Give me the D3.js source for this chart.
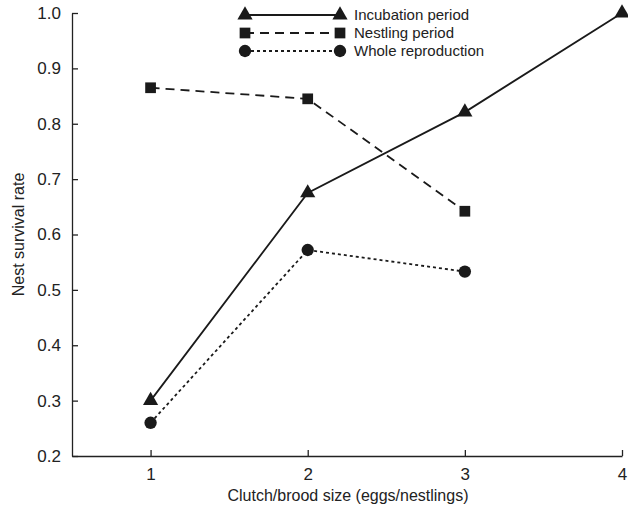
<!DOCTYPE html>
<html>
<head>
<meta charset="utf-8">
<script src="https://cdn.jsdelivr.net/npm/d3@7"></script>
<style>
  body { margin: 0; background: #fff; }
  text { font-family: "Liberation Sans", Arial, sans-serif; fill: #222; }
</style>
</head>
<body>
<svg width="628" height="512"></svg>
<script>
/* Data */

var clutchSizes = [1, 2, 3, 4];
var incubation  = [0.300, 0.675, 0.821, 1.000];
var nestling    = [0.865, 0.845, 0.642];
var whole       = [0.260, 0.572, 0.533];
var yTicks      = [0.2, 0.3, 0.4, 0.5, 0.6, 0.7, 0.8, 0.9, 1.0];

var series = [
  {name: "Incubation period",  values: incubation, dash: null,  shape: d3.symbolTriangle},
  {name: "Nestling period",    values: nestling,   dash: "9,6", shape: d3.symbolSquare},
  {name: "Whole reproduction", values: whole,      dash: "3,3", shape: d3.symbolCircle}
];

/* Setup */

var svg = d3.select("svg");
var plotLeft = 72, plotRight = 622, plotTop = 13, plotBottom = 456;

var x = d3.scaleLinear().domain([0.5, 4]).range([plotLeft, plotRight]);
var y = d3.scaleLinear().domain([0.2, 1.0]).range([plotBottom, plotTop]);

// y axis, ticks pointing inward
var yAxis = svg.append("g")
  .attr("transform", `translate(${plotLeft},0)`)
  .call(d3.axisLeft(y).tickValues(yTicks).tickFormat(d3.format(".1f"))
        .tickSizeInner(-6).tickSizeOuter(0).tickPadding(11));
yAxis.selectAll("text").style("font-size", "17px");

var xAxis = svg.append("g")
  .attr("transform", `translate(0,${plotBottom})`)
  .call(d3.axisBottom(x).tickValues(clutchSizes).tickFormat(d3.format("d"))
        .tickSizeInner(-6).tickSizeOuter(0).tickPadding(12));
xAxis.selectAll("text").style("font-size", "17px");

svg.selectAll(".domain, .tick line").attr("stroke", "#222").attr("stroke-width", 1.3);

svg.append("text")
  .attr("transform", `translate(24,${(plotTop + plotBottom) / 2}) rotate(-90)`)
  .attr("text-anchor", "middle")
  .style("font-size", "16px")
  .text("Nest survival rate");

svg.append("text")
  .attr("x", 348).attr("y", 501)
  .attr("text-anchor", "middle")
  .style("font-size", "16px")
  .text("Clutch/brood size (eggs/nestlings)");

/* Lines + markers */

var line = d3.line()
  .x((d, i) => x(clutchSizes[i]))
  .y((d) => y(d));

var symSize = (s) => s === d3.symbolCircle ? 120 : (s === d3.symbolSquare ? 115 : 100);

series.forEach((s) => {
  svg.append("path")
    .datum(s.values)
    .attr("d", line)
    .attr("fill", "none")
    .attr("stroke", "#1a1a1a")
    .attr("stroke-width", 1.8)
    .attr("stroke-dasharray", s.dash);

  svg.selectAll(null)
    .data(s.values)
    .enter().append("path")
    .attr("d", d3.symbol().type(s.shape).size(symSize(s.shape)))
    .attr("transform", (d, i) => `translate(${x(clutchSizes[i])},${y(d)})`)
    .attr("fill", "#1a1a1a");
});

/* Legend */

var legend = svg.append("g");
series.forEach((s, i) => {
  var ly = 15 + i * 18;
  legend.append("line")
    .attr("x1", 245).attr("x2", 340)
    .attr("y1", ly).attr("y2", ly)
    .attr("stroke", "#1a1a1a")
    .attr("stroke-width", 1.8)
    .attr("stroke-dasharray", s.dash);
  [245, 340].forEach((lx) => {
    legend.append("path")
      .attr("d", d3.symbol().type(s.shape).size(symSize(s.shape)))
      .attr("transform", `translate(${lx},${ly})`)
      .attr("fill", "#1a1a1a");
  });
  legend.append("text")
    .attr("x", 354).attr("y", ly + 5)
    .style("font-size", "15px")
    .text(s.name);
});
</script>
</body>
</html>
